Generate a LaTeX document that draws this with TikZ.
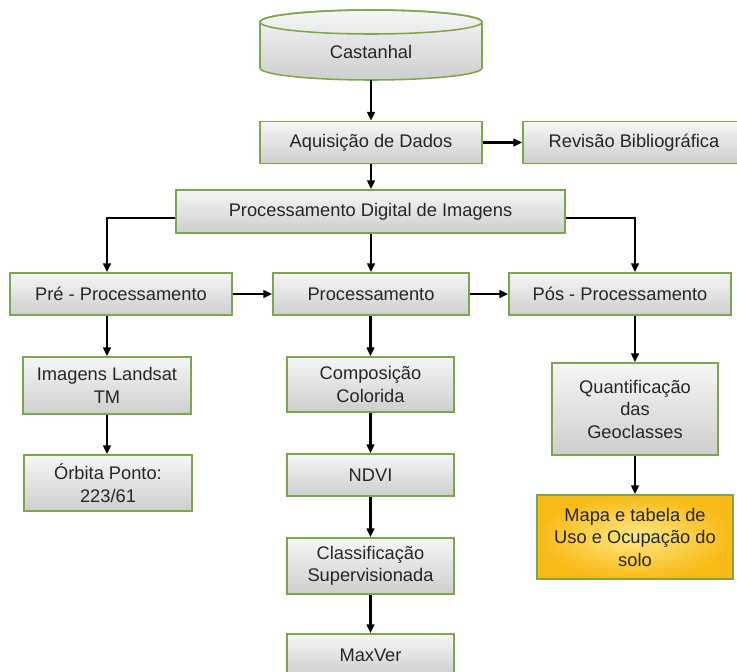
\documentclass[tikz,border=0pt]{standalone}
\usepackage{fontspec}
\setmainfont{Liberation Sans}
\usetikzlibrary{arrows.meta, positioning, calc}
\definecolor{boxline}{RGB}{126, 166, 78}
\definecolor{boxtop}{RGB}{246, 246, 246}
\definecolor{boxbot}{RGB}{206, 206, 206}
\definecolor{boxtext}{RGB}{38, 38, 38}
\definecolor{arrowcol}{RGB}{0, 0, 0}
\definecolor{mapaout}{RGB}{248, 186, 22}
\definecolor{mapain}{RGB}{255, 232, 135}

\begin{document}
\begin{tikzpicture}[
        >={Triangle[length=2.2mm, width=1.9mm]},
        box/.style={rectangle, draw=boxline, line width=1.1pt, top color=boxtop, bottom color=boxbot, text=boxtext, minimum width=5.55cm, minimum height=1.05cm, align=center, inner sep=2pt, font=\fontsize{13}{16}\selectfont},
        smallbox/.style={box, minimum width=4.175cm},
        resultbox/.style={box, shading=radial, inner color=mapain, outer color=mapaout},
        arrow/.style={->, line width=1.5pt, color=arrowcol}
    ]
    %% --- page frame (737 x 671) ---
    \clip (0, 0) rectangle (18.425, -16.775);

    %% --- Castanhal (drum on top) ---
    \path[top color=boxtop, bottom color=boxbot, draw=boxline, line width=1.1pt]
        (6.5, -0.55) -- (6.5, -1.7)
        arc[start angle=180, end angle=360, x radius=2.775, y radius=0.3]
        -- (12.05, -0.55)
        arc[start angle=0, end angle=180, x radius=2.775, y radius=0.3] -- cycle;
    \draw[boxline, line width=1.1pt] (9.275, -0.55) ellipse[x radius=2.775, y radius=0.3];
    \node[font=\fontsize{13}{16}\selectfont, text=boxtext, minimum width=5.55cm, minimum height=1.4cm] (castanhal) at (9.275, -1.3) {Castanhal};

    %% --- first rows ---
    \node[box] (aquisicao) at (9.275, -3.5625) {Aquisição de Dados};
    \node[box] (revisao)   at (15.85, -3.5625) {Revisão Bibliográfica};
    \node[box, minimum width=9.725cm, minimum height=1.075cm] (pdi) at (9.2625, -5.2875) {Processamento Digital de Imagens};

    %% --- three stages (row y=-7.35) ---
    \node[box] (pre)  at (3.025, -7.35) {Pré - Processamento};
    \node[box, minimum width=4.9cm] (proc) at (9.275, -7.35) {Processamento};
    \node[box] (pos)  at (15.5, -7.35)  {Pós - Processamento};

    %% --- left column ---
    \node[smallbox, minimum width=4.2cm, minimum height=1.425cm] (imagens) at (2.675, -9.6375) {Imagens Landsat\\TM};
    \node[smallbox, minimum width=4.2cm, minimum height=1.4cm]   (orbita)  at (2.7, -12.075)   {Órbita Ponto:\\223/61};

    %% --- middle column ---
    \node[smallbox, minimum height=1.375cm] (compos)  at (9.2625, -9.6125) {Composição\\Colorida};
    \node[smallbox]                         (ndvi)    at (9.2625, -11.875) {NDVI};
    \node[smallbox, minimum height=1.4cm]   (classif) at (9.2625, -14.15)  {Classificação\\Supervisionada};
    \node[smallbox]                         (maxver)  at (9.2625, -16.375) {MaxVer};

    %% --- right column ---
    \node[smallbox, minimum width=4.15cm, minimum height=2.3cm] (quant) at (15.875, -10.225) {Quantificação\\das\\Geoclasses};
    \node[resultbox, minimum width=4.9cm, minimum height=2.1cm]  (mapa)  at (15.875, -13.425) {Mapa e tabela de\\Uso e Ocupação do\\solo};

    %% --- top flow ---
    \draw[arrow] (castanhal.south) -- (aquisicao.north);
    \draw[arrow] (aquisicao.east) -- (revisao.west);
    \draw[arrow] (aquisicao.south) -- (aquisicao.south |- pdi.north);

    %% --- split into the three stages ---
    \draw[arrow] ([yshift=-4.6pt]pdi.west) -| (pre.north -| imagens);
    \draw[arrow] (pdi.south -| proc) -- (proc.north);
    \draw[arrow] ([yshift=-4.6pt]pdi.east) -| (pos.north -| quant);
    \draw[arrow] (pre.east) -- (proc.west);
    \draw[arrow] (proc.east) -- (pos.west);

    %% --- columns ---
    \draw[arrow] (pre.south -| imagens) -- (imagens.north);
    \draw[arrow] (imagens.south) -- (imagens.south |- orbita.north);
    \draw[arrow] (proc.south -| compos) -- (compos.north);
    \draw[arrow] (compos.south) -- (ndvi.north);
    \draw[arrow] (ndvi.south) -- (classif.north);
    \draw[arrow] (classif.south) -- (maxver.north);
    \draw[arrow] (pos.south -| quant) -- (quant.north);
    \draw[arrow] (quant.south) -- (mapa.north);
\end{tikzpicture}
\end{document}
